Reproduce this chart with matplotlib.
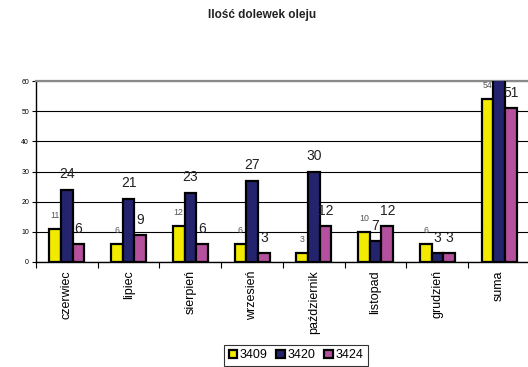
import matplotlib
matplotlib.use("Agg")
import matplotlib.pyplot as plt
from matplotlib import font_manager as fm
import numpy as np

plt.rcParams['font.family'] = ['Liberation Sans', 'DejaVu Sans']

categories = ["czerwiec", "lipiec", "sierpień", "wrzesień", "październik",
              "listopad", "grudzień", "suma"]
series_names = ["3409", "3420", "3424"]
v3409 = [11, 6, 12, 6, 3, 10, 6, 54]
v3420 = [24, 21, 23, 27, 30, 7, 3, 135]
v3424 = [6, 9, 6, 3, 12, 12, 3, 51]
yticks = [0, 10, 20, 30, 40, 50, 60]

colors = ["#f2ea00", "#24246e", "#b5509e"]
series = [v3409, v3420, v3424]

fig = plt.figure(figsize=(5.28, 3.67), dpi=100)
ax = fig.add_axes([36/528, 105/367, 494/528, 181/367])

x = np.arange(len(categories))
w = 0.19
offsets = [-w, 0, w]
label_sizes = [6.3, 10, 10]
label_off = [9.5, 11, 11]
label_colors = ["#555555", "#222222", "#222222"]
for vals, off, c, name, fs, lo, lc in zip(series, offsets, colors, series_names,
                                          label_sizes, label_off, label_colors):
    ax.bar(x + off, vals, width=w, color=c, edgecolor="black", linewidth=1.6,
           label=name, zorder=3)
    for xi, v in zip(x + off, vals):
        if v <= 60:
            ax.annotate(str(v), (xi, v), xytext=(0, lo), textcoords="offset points",
                        ha="center", va="center", fontsize=fs, color=lc)

ax.set_xlim(-0.5, len(categories) - 0.5)
ax.set_ylim(0, 60)
ax.set_yticks(yticks)
ax.set_yticklabels([str(t) for t in yticks], fontsize=5)
ax.tick_params(axis='y', length=3, width=0.8, pad=2)
ax.yaxis.grid(True, color="black", linewidth=0.8, zorder=0)
ax.set_axisbelow(True)

ax.set_xticks(np.arange(len(categories) + 1) - 0.5)
ax.set_xticklabels([])
ax.tick_params(axis='x', which='major', length=4, width=0.8)
ax.set_xticks(x, minor=True)
ax.set_xticklabels(categories, minor=True, rotation=90, fontsize=9, va='top')
ax.tick_params(axis='x', which='minor', length=0, pad=6)

ax.spines['right'].set_visible(False)
ax.spines['top'].set_color('#8a8a8a')
ax.spines['top'].set_linewidth(1.6)
ax.spines['left'].set_linewidth(1.0)
ax.spines['bottom'].set_linewidth(1.0)

fig.text(262/528, 1 - 15/367, "Ilość dolewek oleju", ha="center", va="center",
         fontsize=8.5, fontweight="bold", color="#222222")

leg = fig.legend(loc="upper center", bbox_to_anchor=(296/528, 1 - 345/367),
                 ncol=3, fontsize=9, frameon=True, fancybox=False,
                 handlelength=0.7, handleheight=0.7, handletextpad=0.2,
                 columnspacing=0.7, borderpad=0.35, borderaxespad=0)
leg.get_frame().set_edgecolor("black")
leg.get_frame().set_linewidth(0.8)

fig.savefig("out.png", dpi=100)
